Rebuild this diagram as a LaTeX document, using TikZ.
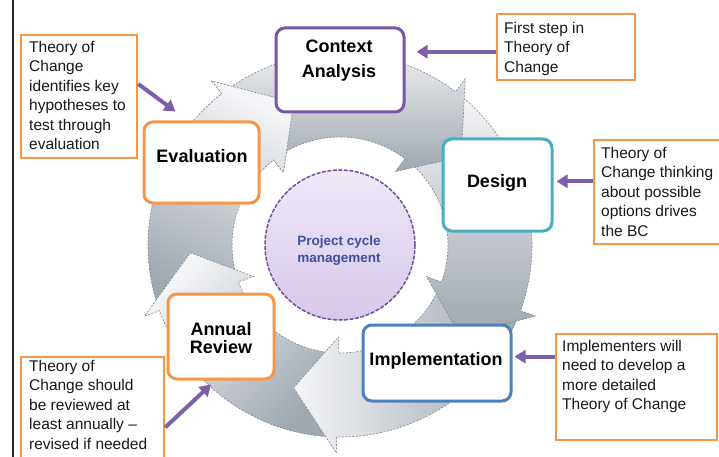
\documentclass[tikz,border=0pt]{standalone}
\usepackage{fontspec}
\setmainfont{Liberation Sans}
\usetikzlibrary{arrows.meta,calc}
\definecolor{orng}{HTML}{F79646}
\definecolor{purb}{HTML}{7C55A5}
\definecolor{tealb}{HTML}{4BACC6}
\definecolor{blueb}{HTML}{4F81BD}
\definecolor{parr}{HTML}{7E5FA8}
\definecolor{gl}{HTML}{F4F5F7}
\definecolor{gd}{HTML}{9FA7AF}
\definecolor{gline}{HTML}{7D858C}
\definecolor{circb}{HTML}{7050A0}
\definecolor{circt}{HTML}{EFE9F7}
\definecolor{circbot}{HTML}{D6C8EA}
\definecolor{pcmtext}{HTML}{3F4F9F}
\newcommand{\ringarrow}[4]{%
 \path[#4] (#1:192) arc[start angle=#1, end angle=#2, radius=192] -- (#2:208) -- (#3:150) -- (#2:92) -- (#2:108) arc[start angle=#2, end angle=#1, radius=108] -- cycle;}
\begin{document}
\begin{tikzpicture}[x=1pt,y=-1pt,
 stepbox/.style={draw, line width=3pt, rounded corners=9pt, fill=white, inner sep=0pt},
 callout/.style={draw=orng, line width=2.5pt, fill=white, inner sep=0pt},
 ctext/.style={anchor=north west, align=left, inner sep=0pt, font=\fontsize{15.5}{19.5}\selectfont, text=black!90},
 btext/.style={inner sep=0pt, font=\fontsize{18}{25}\selectfont\bfseries},
 parrow/.style={draw=parr, line width=4pt, -{Triangle[length=11pt,width=13pt]}},
 ringsh/.style={draw=gline, line width=0.6pt, dash pattern=on 2pt off 1.5pt, top color=gl, bottom color=gd, shading angle=#1}]
\useasboundingbox (0,0) rectangle (719,457);
\clip (0,0) rectangle (719,457);
\fill[white] (0,0) rectangle (719,457);
\draw[line width=2pt, black!85] (13,0) -- (13,457);
% ring of arrows
\begin{scope}[shift={(340,245)}, yscale=-1]
 \ringarrow{199}{128}{108}{ringsh=-25}
 \ringarrow{-92}{-160}{-177}{ringsh=45}
 \ringarrow{-21}{-91}{-108}{ringsh=90}
 \ringarrow{52}{-20}{-37}{ringsh=0}
 \ringarrow{127}{53}{36}{ringsh=0}
 \begin{scope}
  \clip (0,0) -- (100:260) arc[start angle=100, end angle=136, radius=260] -- cycle;
  \ringarrow{199}{128}{108}{ringsh=-25}
 \end{scope}
\end{scope}
% centre
\node[circle, draw=circb, line width=1.5pt, dash pattern=on 4pt off 1.5pt, top color=circt, bottom color=circbot, minimum size=150pt, inner sep=0pt] (pcm) at (340,245) {};
\node[font=\fontsize{13.5}{17}\selectfont\bfseries, text=pcmtext, align=center, inner sep=0pt] (pcmT) at (339,251) {Project cycle\\management};
% step boxes
\node[stepbox, draw=purb, minimum width=128pt, minimum height=84pt] (ctx) at (340,70) {};
\node[stepbox, draw=tealb, minimum width=109pt, minimum height=92pt] (des) at (497.5,185) {};
\node[stepbox, draw=blueb, minimum width=148pt, minimum height=76pt] (impl) at (437,363) {};
\node[stepbox, draw=orng, minimum width=106pt, minimum height=85pt] (ar) at (221,336.5) {};
\node[stepbox, draw=orng, minimum width=115pt, minimum height=81pt] (eval) at (201.5,162.5) {};
\node[btext, anchor=north, align=center] (ctxT) at (339,40) {Context\\Analysis};
\node[btext, anchor=base] (evalT) at (202,163) {Evaluation};
\node[btext, anchor=base] (desT) at (497,187) {Design};
\node[btext, anchor=base] (implT) at (436,365) {Implementation};
\node[btext, anchor=north, align=center, font=\fontsize{18}{18.5}\selectfont\bfseries] (arT) at (221,322) {Annual\\Review};
% callouts
\node[callout, minimum width=116pt, minimum height=123pt] (tl) at (79,96.5) {};
\node[callout, minimum width=138pt, minimum height=66pt] (tr) at (566,47) {};
\node[callout, minimum width=141pt, minimum height=104pt] (rc) at (664.5,192) {};
\node[callout, minimum width=161pt, minimum height=106pt] (brc) at (636.5,387) {};
\node[callout, minimum width=143pt, minimum height=113pt] (blc) at (92.5,413.5) {};
\node[ctext] (tlT) at (29,41) {Theory of\\Change\\identifies key\\hypotheses to\\test through\\evaluation};
\node[ctext] (trT) at (504,22) {First step in\\Theory of\\Change};
\node[ctext] (rcT) at (601,147) {Theory of\\Change thinking\\about possible\\options drives\\the BC};
\node[ctext] (brcT) at (562,340) {Implementers will\\need to develop a\\more detailed\\Theory of Change};
\node[ctext] (blcT) at (29,360) {Theory of\\Change should\\be reviewed at\\least annually –\\revised if needed};
% purple arrows
\coordinate (tlA) at ($(tl.north east)!0.4!(tl.south east)$);
\coordinate (evtip) at ($(eval.north west)+(33,-9)$);
\draw[parrow] (tlA) -- (evtip);
\coordinate (trA) at ($(tr.north west)!0.57!(tr.south west)$);
\draw[parrow, shorten >=11pt] (trA) -- (trA -| ctx.east);
\coordinate (rcA) at ($(rc.north west)!0.40!(rc.south west)$);
\draw[parrow, shorten >=3pt] (rcA) -- (rcA -| des.east);
\coordinate (brcA) at ($(brc.north west)!0.22!(brc.south west)$);
\draw[parrow, shorten >=2pt] (brcA) -- (brcA -| impl.east);
\coordinate (blcA) at ($(blc.north east)!0.62!(blc.south east)$);
\coordinate (artip) at ($(ar.south)+(-10,4)$);
\draw[parrow] (blcA) -- (artip);
\end{tikzpicture}
\end{document}
